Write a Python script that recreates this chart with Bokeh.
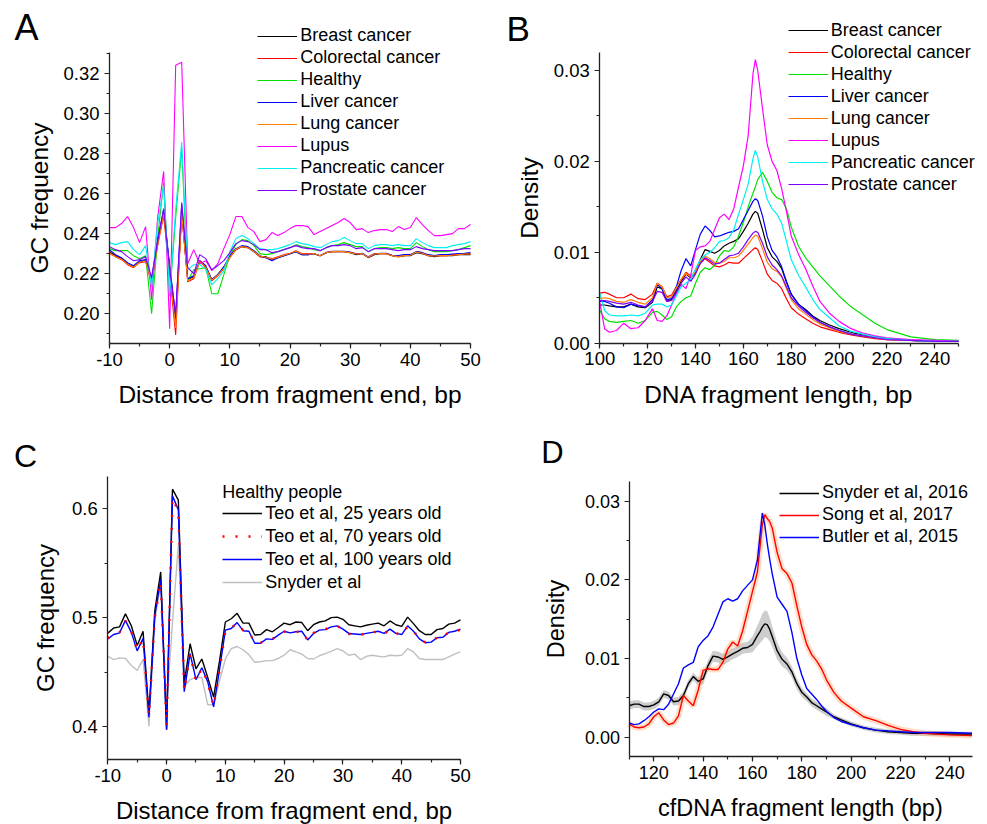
from bokeh.plotting import figure
from bokeh.models import (Range1d, SingleIntervalTicker, NumeralTickFormatter,
                          Legend, LegendItem, Label)
from bokeh.layouts import column, row
from bokeh.embed import file_html
from bokeh.resources import INLINE

FONT = "Liberation Sans"

# ---------------- Panel A data (GC frequency vs distance) ----------------
A_x = list(range(-10, 51))
A_breast = [0.2310, 0.2290, 0.2275, 0.2250, 0.2235, 0.2260, 0.2265, 0.2170, 0.2355, 0.2510,
            0.2230, 0.1960, 0.2505, 0.2170, 0.2185, 0.2265, 0.2235, 0.2170, 0.2195, 0.2230,
            0.2285, 0.2320, 0.2335, 0.2330, 0.2310, 0.2285, 0.2285, 0.2270, 0.2280, 0.2290,
            0.2300, 0.2310, 0.2295, 0.2295, 0.2300, 0.2290, 0.2305, 0.2310, 0.2310, 0.2310,
            0.2305, 0.2295, 0.2300, 0.2280, 0.2295, 0.2300, 0.2300, 0.2290, 0.2285, 0.2290,
            0.2290, 0.2305, 0.2300, 0.2290, 0.2285, 0.2290, 0.2290, 0.2290, 0.2295, 0.2295, 0.2295]
A_colorectal = [0.2305, 0.2285, 0.2270, 0.2245, 0.2230, 0.2255, 0.2260, 0.2150, 0.2340, 0.2490,
                0.2200, 0.1895, 0.2510, 0.2160, 0.2175, 0.2260, 0.2230, 0.2165, 0.2190, 0.2225,
                0.2280, 0.2320, 0.2335, 0.2330, 0.2310, 0.2285, 0.2280, 0.2275, 0.2285, 0.2295,
                0.2300, 0.2315, 0.2300, 0.2300, 0.2300, 0.2290, 0.2305, 0.2310, 0.2310, 0.2310,
                0.2305, 0.2300, 0.2300, 0.2285, 0.2300, 0.2300, 0.2300, 0.2290, 0.2285, 0.2290,
                0.2295, 0.2310, 0.2305, 0.2290, 0.2290, 0.2290, 0.2290, 0.2295, 0.2295, 0.2300, 0.2300]
A_healthy = [0.2325, 0.2315, 0.2315, 0.2315, 0.2290, 0.2275, 0.2290, 0.2000, 0.2380, 0.2655,
             0.2090, 0.2480, 0.2825, 0.2165, 0.2220, 0.2225, 0.2230, 0.2100, 0.2100, 0.2195,
             0.2290, 0.2345, 0.2370, 0.2365, 0.2340, 0.2300, 0.2295, 0.2300, 0.2310, 0.2320,
             0.2330, 0.2345, 0.2335, 0.2330, 0.2320, 0.2315, 0.2330, 0.2340, 0.2345, 0.2355,
             0.2345, 0.2335, 0.2335, 0.2310, 0.2325, 0.2330, 0.2330, 0.2325, 0.2330, 0.2325,
             0.2325, 0.2355, 0.2335, 0.2320, 0.2310, 0.2310, 0.2310, 0.2315, 0.2320, 0.2330, 0.2340]
A_liver = [0.2320, 0.2295, 0.2280, 0.2255, 0.2240, 0.2265, 0.2270, 0.2175, 0.2370, 0.2520,
           0.2240, 0.1990, 0.2545, 0.2175, 0.2190, 0.2265, 0.2240, 0.2170, 0.2195, 0.2235,
           0.2290, 0.2325, 0.2340, 0.2335, 0.2315, 0.2290, 0.2280, 0.2265, 0.2280, 0.2290,
           0.2300, 0.2310, 0.2295, 0.2295, 0.2300, 0.2290, 0.2305, 0.2312, 0.2312, 0.2312,
           0.2308, 0.2298, 0.2302, 0.2282, 0.2298, 0.2302, 0.2302, 0.2292, 0.2290, 0.2295,
           0.2295, 0.2310, 0.2305, 0.2295, 0.2290, 0.2295, 0.2295, 0.2298, 0.2300, 0.2302, 0.2305]
A_lung = [0.2300, 0.2285, 0.2272, 0.2248, 0.2232, 0.2258, 0.2262, 0.2160, 0.2345, 0.2500,
          0.2215, 0.1930, 0.2500, 0.2165, 0.2180, 0.2262, 0.2232, 0.2168, 0.2192, 0.2228,
          0.2282, 0.2322, 0.2336, 0.2330, 0.2310, 0.2288, 0.2282, 0.2272, 0.2282, 0.2292,
          0.2302, 0.2312, 0.2298, 0.2298, 0.2300, 0.2290, 0.2305, 0.2310, 0.2312, 0.2310,
          0.2305, 0.2298, 0.2300, 0.2282, 0.2298, 0.2300, 0.2300, 0.2290, 0.2285, 0.2290,
          0.2292, 0.2308, 0.2302, 0.2290, 0.2288, 0.2290, 0.2290, 0.2292, 0.2295, 0.2298, 0.2298]
A_lupus = [0.2430, 0.2430, 0.2450, 0.2485, 0.2430, 0.2355, 0.2435, 0.2070, 0.2480, 0.2710,
           0.1925, 0.3240, 0.3255, 0.2250, 0.2320, 0.2250, 0.2265, 0.2215, 0.2250, 0.2325,
           0.2395, 0.2485, 0.2485, 0.2430, 0.2410, 0.2360, 0.2370, 0.2405, 0.2390, 0.2405,
           0.2425, 0.2440, 0.2440, 0.2435, 0.2395, 0.2410, 0.2425, 0.2440, 0.2455, 0.2475,
           0.2455, 0.2420, 0.2425, 0.2405, 0.2415, 0.2420, 0.2420, 0.2410, 0.2435, 0.2420,
           0.2430, 0.2480, 0.2445, 0.2415, 0.2390, 0.2390, 0.2395, 0.2400, 0.2425, 0.2425, 0.2445]
A_pancreatic = [0.2355, 0.2345, 0.2355, 0.2360, 0.2320, 0.2295, 0.2340, 0.2135, 0.2450, 0.2640,
                0.2095, 0.2520, 0.2855, 0.2220, 0.2245, 0.2245, 0.2220, 0.2145, 0.2175, 0.2215,
                0.2310, 0.2375, 0.2390, 0.2375, 0.2350, 0.2325, 0.2320, 0.2320, 0.2325, 0.2335,
                0.2345, 0.2360, 0.2350, 0.2345, 0.2335, 0.2330, 0.2345, 0.2360, 0.2365, 0.2380,
                0.2365, 0.2350, 0.2350, 0.2325, 0.2340, 0.2345, 0.2345, 0.2340, 0.2345, 0.2340,
                0.2340, 0.2375, 0.2355, 0.2340, 0.2330, 0.2330, 0.2330, 0.2340, 0.2345, 0.2350, 0.2360]
A_prostate = [0.2335, 0.2320, 0.2310, 0.2285, 0.2265, 0.2270, 0.2285, 0.2180, 0.2360, 0.2525,
              0.2220, 0.1995, 0.2555, 0.2230, 0.2200, 0.2295, 0.2275, 0.2220, 0.2240, 0.2265,
              0.2305, 0.2350, 0.2365, 0.2360, 0.2345, 0.2320, 0.2320, 0.2305, 0.2310, 0.2320,
              0.2330, 0.2340, 0.2330, 0.2325, 0.2325, 0.2315, 0.2330, 0.2340, 0.2340, 0.2345,
              0.2340, 0.2325, 0.2330, 0.2310, 0.2325, 0.2325, 0.2325, 0.2320, 0.2315, 0.2320,
              0.2320, 0.2335, 0.2325, 0.2320, 0.2315, 0.2315, 0.2315, 0.2315, 0.2320, 0.2325, 0.2325]

GROUP_NAMES = ["Breast cancer", "Colorectal cancer", "Healthy", "Liver cancer",
               "Lung cancer", "Lupus", "Pancreatic cancer", "Prostate cancer"]
GROUP_COLORS = ["#000000", "#ff0000", "#00e000", "#0000ff",
                "#ff8000", "#ff00ff", "#00f0f0", "#8000ff"]

# ---------------- Panel B data (density vs fragment length) ----------------
B_x = [100, 102, 104, 107, 110, 113, 116, 119,
       122, 124, 126, 128, 130, 132, 134, 136, 138, 140, 142, 144, 146, 148, 150, 152, 154, 156, 158, 160, 162, 164,
       165, 166,
       168, 170, 172, 174, 176, 178, 180,
       183, 186, 189, 192, 196, 200,
       205, 210, 215, 220, 230, 240, 250]
B_breast = [0.0042, 0.0042, 0.0041, 0.0040, 0.0040, 0.0043, 0.0040, 0.0039,
            0.0045, 0.0062, 0.0060, 0.0046, 0.0048, 0.0058, 0.0068, 0.0076, 0.0072, 0.0078, 0.0092, 0.0103,
            0.0101, 0.0099, 0.0102, 0.0107, 0.0110, 0.0112, 0.0115, 0.0123, 0.0132, 0.0142,
            0.0145, 0.0143,
            0.0125, 0.0105, 0.0095, 0.0090, 0.0082, 0.0067, 0.0054,
            0.0043, 0.0037, 0.0030, 0.0025, 0.0020, 0.0016,
            0.0012, 0.0009, 0.0007, 0.0005, 0.0003, 0.0002, 0.0002]
B_colorectal = [0.0055, 0.0056, 0.0054, 0.0050, 0.0050, 0.0054, 0.0049, 0.0048,
                0.0054, 0.0066, 0.0062, 0.0051, 0.0053, 0.0062, 0.0070, 0.0078, 0.0074, 0.0078, 0.0088, 0.0093,
                0.0089, 0.0085, 0.0084, 0.0086, 0.0089, 0.0088, 0.0088, 0.0093, 0.0098, 0.0103,
                0.0105, 0.0103,
                0.0090, 0.0076, 0.0069, 0.0066, 0.0060, 0.0049, 0.0039,
                0.0032, 0.0027, 0.0022, 0.0018, 0.0015, 0.0012,
                0.0009, 0.0007, 0.0005, 0.0004, 0.0003, 0.0002, 0.0002]
B_healthy = [0.0036, 0.0027, 0.0024, 0.0023, 0.0024, 0.0025, 0.0022, 0.0025,
             0.0034, 0.0035, 0.0031, 0.0026, 0.0029, 0.0040, 0.0046, 0.0050, 0.0052, 0.0066, 0.0078, 0.0083,
             0.0081, 0.0086, 0.0096, 0.0102, 0.0101, 0.0106, 0.0118, 0.0133, 0.0150, 0.0165,
             0.0172, 0.0180,
             0.0188, 0.0178, 0.0166, 0.0160, 0.0158, 0.0148, 0.0128,
             0.0107, 0.0094, 0.0084, 0.0074, 0.0063, 0.0052,
             0.0040, 0.0031, 0.0022, 0.0015, 0.0007, 0.0004, 0.0003]
B_liver = [0.0046, 0.0046, 0.0044, 0.0040, 0.0039, 0.0043, 0.0041, 0.0040,
           0.0048, 0.0065, 0.0060, 0.0048, 0.0049, 0.0062, 0.0080, 0.0093, 0.0085, 0.0103, 0.0120, 0.0129,
           0.0124, 0.0117, 0.0118, 0.0120, 0.0122, 0.0123, 0.0126, 0.0136, 0.0146, 0.0156,
           0.0159, 0.0157,
           0.0140, 0.0117, 0.0102, 0.0095, 0.0084, 0.0068, 0.0054,
           0.0043, 0.0036, 0.0029, 0.0023, 0.0018, 0.0014,
           0.0010, 0.0008, 0.0006, 0.0005, 0.0003, 0.0002, 0.0002]
B_lung = [0.0049, 0.0050, 0.0049, 0.0046, 0.0045, 0.0048, 0.0045, 0.0043,
          0.0050, 0.0066, 0.0062, 0.0050, 0.0051, 0.0061, 0.0070, 0.0077, 0.0073, 0.0079, 0.0090, 0.0096,
          0.0093, 0.0089, 0.0088, 0.0090, 0.0094, 0.0094, 0.0096, 0.0102, 0.0109, 0.0116,
          0.0119, 0.0118,
          0.0104, 0.0089, 0.0082, 0.0079, 0.0073, 0.0060, 0.0048,
          0.0038, 0.0032, 0.0026, 0.0021, 0.0017, 0.0013,
          0.0010, 0.0008, 0.0006, 0.0004, 0.0003, 0.0002, 0.0002]
B_lupus = [0.0045, 0.0016, 0.0012, 0.0014, 0.0022, 0.0016, 0.0017, 0.0025,
           0.0038, 0.0025, 0.0024, 0.0030, 0.0042, 0.0055, 0.0065, 0.0060, 0.0075, 0.0102, 0.0106, 0.0107,
           0.0112, 0.0125, 0.0138, 0.0142, 0.0136, 0.0148, 0.0172, 0.0195, 0.0228, 0.0296,
           0.0312, 0.0300,
           0.0258, 0.0218, 0.0200, 0.0190, 0.0170, 0.0145, 0.0118,
           0.0098, 0.0082, 0.0063, 0.0046, 0.0033, 0.0024,
           0.0016, 0.0011, 0.0008, 0.0006, 0.0004, 0.0003, 0.0002]
B_pancreatic = [0.0055, 0.0036, 0.0031, 0.0030, 0.0030, 0.0031, 0.0030, 0.0033,
                0.0042, 0.0043, 0.0043, 0.0040, 0.0042, 0.0052, 0.0062, 0.0066, 0.0070, 0.0082, 0.0092, 0.0097,
                0.0100, 0.0105, 0.0112, 0.0113, 0.0116, 0.0125, 0.0142, 0.0158, 0.0175, 0.0203,
                0.0212, 0.0205,
                0.0178, 0.0158, 0.0148, 0.0142, 0.0132, 0.0112, 0.0092,
                0.0075, 0.0062, 0.0048, 0.0037, 0.0028, 0.0019,
                0.0013, 0.0010, 0.0007, 0.0005, 0.0003, 0.0002, 0.0002]
B_prostate = [0.0047, 0.0047, 0.0046, 0.0044, 0.0043, 0.0045, 0.0042, 0.0040,
              0.0046, 0.0057, 0.0056, 0.0046, 0.0047, 0.0056, 0.0066, 0.0073, 0.0068, 0.0076, 0.0088, 0.0094,
              0.0091, 0.0087, 0.0088, 0.0092, 0.0096, 0.0097, 0.0099, 0.0106, 0.0114, 0.0121,
              0.0123, 0.0122,
              0.0110, 0.0095, 0.0086, 0.0081, 0.0074, 0.0062, 0.0050,
              0.0041, 0.0034, 0.0028, 0.0023, 0.0018, 0.0014,
              0.0010, 0.0008, 0.0006, 0.0004, 0.0003, 0.0002, 0.0002]

# ---------------- Panel C data (healthy people GC frequency) ----------------
C_x = list(range(-10, 51))
C_teo25 = [0.4858, 0.4905, 0.4915, 0.5035, 0.4925, 0.4745, 0.4875, 0.4115, 0.5065, 0.5420,
           0.3970, 0.6180, 0.6080, 0.4400, 0.4760, 0.4530, 0.4620, 0.4450, 0.4270, 0.4600,
           0.4960, 0.4990, 0.5040, 0.4950, 0.4950, 0.4840, 0.4845, 0.4890, 0.4870, 0.4910,
           0.4950, 0.4935, 0.4960, 0.4955, 0.4880, 0.4935, 0.4960, 0.4970, 0.5000, 0.5005,
           0.4985, 0.4935, 0.4925, 0.4915, 0.4930, 0.4940, 0.4950, 0.4925, 0.4970, 0.4935,
           0.4920, 0.5005, 0.4945, 0.4880, 0.4845, 0.4845, 0.4890, 0.4900, 0.4940, 0.4950, 0.4980]
C_teo70 = [0.4810, 0.4850, 0.4865, 0.4970, 0.4870, 0.4700, 0.4805, 0.4100, 0.5010, 0.5330,
           0.4000, 0.6100, 0.5970, 0.4330, 0.4665, 0.4420, 0.4535, 0.4405, 0.4185, 0.4515,
           0.4880, 0.4905, 0.4950, 0.4885, 0.4870, 0.4770, 0.4770, 0.4800, 0.4805, 0.4835,
           0.4870, 0.4865, 0.4865, 0.4880, 0.4790, 0.4860, 0.4880, 0.4895, 0.4910, 0.4920,
           0.4900, 0.4850, 0.4855, 0.4840, 0.4860, 0.4860, 0.4880, 0.4850, 0.4890, 0.4860,
           0.4840, 0.4920, 0.4880, 0.4800, 0.4775, 0.4770, 0.4820, 0.4815, 0.4870, 0.4870, 0.4890]
C_teo100 = [0.4805, 0.4845, 0.4860, 0.4975, 0.4865, 0.4695, 0.4810, 0.4085, 0.5020, 0.5350,
            0.3975, 0.6120, 0.5990, 0.4320, 0.4670, 0.4430, 0.4540, 0.4410, 0.4180, 0.4520,
            0.4885, 0.4900, 0.4955, 0.4880, 0.4875, 0.4765, 0.4765, 0.4805, 0.4800, 0.4840,
            0.4875, 0.4860, 0.4870, 0.4875, 0.4795, 0.4855, 0.4885, 0.4890, 0.4915, 0.4925,
            0.4895, 0.4855, 0.4850, 0.4845, 0.4855, 0.4865, 0.4875, 0.4855, 0.4895, 0.4855,
            0.4845, 0.4925, 0.4875, 0.4805, 0.4770, 0.4775, 0.4815, 0.4820, 0.4865, 0.4875, 0.4895]
C_snyder = [0.4645, 0.4615, 0.4630, 0.4625, 0.4560, 0.4515, 0.4615, 0.4000, 0.4970, 0.5310,
            0.4170, 0.4950, 0.5670, 0.4370, 0.4430, 0.4450, 0.4450, 0.4200, 0.4200, 0.4420,
            0.4620, 0.4715, 0.4735, 0.4705, 0.4660, 0.4590, 0.4595, 0.4605, 0.4605, 0.4625,
            0.4655, 0.4705, 0.4685, 0.4665, 0.4625, 0.4620, 0.4650, 0.4670, 0.4690, 0.4715,
            0.4695, 0.4655, 0.4665, 0.4615, 0.4645, 0.4655, 0.4645, 0.4640, 0.4655, 0.4650,
            0.4655, 0.4715, 0.4685, 0.4625, 0.4615, 0.4615, 0.4615, 0.4615, 0.4640, 0.4665, 0.4685]

# ---------------- Panel D data (cfDNA fragment length densities) ----------------
D_x = [110, 112, 114, 116, 118, 120, 122, 124, 126, 128, 130, 132, 134, 136, 138,
       140, 142, 144, 146, 148, 150, 152, 154, 156, 158,
       160, 162,
       163, 164, 165, 166, 167, 168,
       170, 172, 174, 176, 178, 180, 182, 184, 186, 188, 190,
       193, 196, 200, 205, 210, 215, 220, 225, 230, 240, 249]
D_snyder = [0.0040, 0.0042, 0.0042, 0.0039, 0.0039, 0.0041, 0.0045, 0.0055, 0.0053, 0.0045, 0.0046, 0.0053, 0.0068, 0.0077, 0.0071,
            0.0074, 0.0091, 0.0103, 0.0102, 0.0099, 0.0102, 0.0106, 0.0109, 0.0113, 0.0114,
            0.0118, 0.0129,
            0.0134, 0.0140, 0.0144, 0.0143, 0.0137, 0.0128,
            0.0110, 0.0099, 0.0093, 0.0083, 0.0068, 0.0057, 0.0051, 0.0044, 0.0040, 0.0036, 0.0032,
            0.0026, 0.0022, 0.0017, 0.0012, 0.0009, 0.0007, 0.0006, 0.0005, 0.0005, 0.0004, 0.0004]
D_snyder_err = [0.0005, 0.0005, 0.0005, 0.0005, 0.0005, 0.0005, 0.0005, 0.0005, 0.0005, 0.0005, 0.0005, 0.0005, 0.0005, 0.0005, 0.0005,
                0.0007, 0.0007, 0.0007, 0.0007, 0.0007, 0.0007, 0.0007, 0.0007, 0.0007, 0.0007,
                0.0010, 0.0013,
                0.0015, 0.0017, 0.0017, 0.0017, 0.0015, 0.0013,
                0.0011, 0.0009, 0.0008, 0.0007, 0.0007, 0.0006, 0.0005, 0.0005, 0.0005, 0.0005, 0.0005,
                0.0003, 0.0003, 0.0003, 0.0003, 0.0003, 0.0003, 0.0003, 0.0003, 0.0003, 0.0003, 0.0003]
D_song = [0.0017, 0.0013, 0.0012, 0.0013, 0.0017, 0.0026, 0.0031, 0.0022, 0.0016, 0.0018, 0.0027, 0.0053, 0.0046, 0.0040, 0.0060,
          0.0085, 0.0087, 0.0086, 0.0086, 0.0095, 0.0112, 0.0121, 0.0116, 0.0135, 0.0160,
          0.0185, 0.0210,
          0.0240, 0.0270, 0.0283, 0.0278, 0.0274, 0.0266,
          0.0235, 0.0214, 0.0208, 0.0196, 0.0167, 0.0140, 0.0118, 0.0105, 0.0097, 0.0087, 0.0073,
          0.0057, 0.0046, 0.0037, 0.0026, 0.0021, 0.0015, 0.0010, 0.0007, 0.0005, 0.0003, 0.0002]
D_butler = [0.0018, 0.0016, 0.0017, 0.0021, 0.0026, 0.0032, 0.0036, 0.0035, 0.0042, 0.0055, 0.0068, 0.0088, 0.0092, 0.0095, 0.0115,
            0.0123, 0.0129, 0.0140, 0.0156, 0.0172, 0.0176, 0.0173, 0.0176, 0.0186, 0.0193,
            0.0200, 0.0225,
            0.0255, 0.0285, 0.0270, 0.0246, 0.0226, 0.0208,
            0.0178, 0.0169, 0.0160, 0.0133, 0.0100, 0.0079, 0.0062, 0.0055, 0.0048, 0.0040, 0.0033,
            0.0025, 0.0020, 0.0016, 0.0012, 0.0009, 0.0008, 0.0007, 0.0006, 0.0006, 0.0006, 0.0005]


def make_fig(W, H, xcal, ycal, xbounds, ybounds):
    """xcal = ((x0, px0), (x1, px1)); ycal = ((y0, py0), (y1, py1)), pixels from figure top-left."""
    (x0, px0), (x1, px1) = xcal
    (y0, py0), (y1, py1) = ycal
    sx = (px1 - px0) / (x1 - x0)
    sy = (py0 - py1) / (y1 - y0)
    xr = Range1d(x0 - px0 / sx, x0 + (W - px0) / sx)
    yr = Range1d(y0 - (H - py0) / sy, y0 + py0 / sy)
    p = figure(width=W, height=H, x_range=xr, y_range=yr,
               output_backend="svg", toolbar_location=None,
               min_border_left=0, min_border_right=0, min_border_top=0, min_border_bottom=0)
    p.outline_line_color = None
    p.grid.visible = False
    p.xaxis.fixed_location = ybounds[0]
    p.yaxis.fixed_location = xbounds[0]
    p.xaxis.bounds = xbounds
    p.yaxis.bounds = ybounds
    return p


def style(p, xint, yint, xfmt, yfmt, tick_size, title_size, xlabel, ylabel,
          x_std1, x_std2, y_std1, y_std2):
    for ax, itv, fmt, s1, s2, lab in ((p.xaxis[0], xint, xfmt, x_std1, x_std2, xlabel),
                                      (p.yaxis[0], yint, yfmt, y_std1, y_std2, ylabel)):
        ax.ticker = SingleIntervalTicker(interval=itv, num_minor_ticks=2)
        ax.formatter = NumeralTickFormatter(format=fmt)
        ax.axis_label = lab
        ax.axis_line_color = "#222222"
        ax.axis_line_width = 1.3
        ax.major_tick_line_color = "#222222"
        ax.minor_tick_line_color = "#222222"
        ax.major_tick_line_width = 1.2
        ax.minor_tick_line_width = 1.2
        ax.major_tick_in = 0
        ax.major_tick_out = 5
        ax.minor_tick_in = 0
        ax.minor_tick_out = 3
        ax.major_label_text_font = FONT
        ax.major_label_text_font_size = tick_size
        ax.major_label_text_color = "black"
        ax.major_label_standoff = s1
        ax.axis_label_text_font = FONT
        ax.axis_label_text_font_size = title_size
        ax.axis_label_text_font_style = "normal"
        ax.axis_label_text_color = "black"
        ax.axis_label_standoff = s2


def add_legend(p, names, rends, loc, spacing, title=None):
    leg = Legend(items=[LegendItem(label=n, renderers=[r]) for n, r in zip(names, rends)],
                 location=loc, glyph_width=40, glyph_height=20, label_height=20,
                 spacing=spacing, padding=0, margin=0, label_standoff=3,
                 label_text_font=FONT, label_text_font_size="18px",
                 label_text_color="black",
                 border_line_alpha=0, background_fill_alpha=0)
    if title:
        leg.title = title
        leg.title_text_font = FONT
        leg.title_text_font_size = "18px"
        leg.title_text_font_style = "normal"
        leg.title_text_color = "black"
        leg.title_standoff = 0
    p.add_layout(leg)


def letter(p, txt, x, y, size):
    p.add_layout(Label(x=x, y=y, x_units="screen", y_units="screen", text=txt,
                       text_font=FONT, text_font_size=size, text_align="left",
                       text_baseline="alphabetic", text_color="black"))


# ---------------- Panel A ----------------
WA, HA = 498, 411
pA = make_fig(WA, HA, ((-10, 109), (50, 470)), ((0.20, 313.3), (0.32, 72.7)),
              (-10, 50), (0.185, 0.3301))
style(pA, 10, 0.02, "0", "0.00", "18.5px", "24.5px",
      "Distance from fragment end, bp", "GC frequency", 4, 12, 5, 7)
A_series = [A_breast, A_colorectal, A_healthy, A_liver, A_lung, A_lupus, A_pancreatic, A_prostate]
rA = [pA.line(A_x, ys, line_color=c, line_width=1.1) for ys, c in zip(A_series, GROUP_COLORS)]
add_legend(pA, GROUP_NAMES, rA, (257.3, HA - 200), 1)
letter(pA, "A", 14, HA - 26.7, "36px")

# ---------------- Panel B ----------------
WB, HB = 489, 411
pB = make_fig(WB, HB, ((100, 101.3), (240, 436.3)), ((0.0, 342.7), (0.03, 70.0)),
              (100, 250), (0, 0.032))
style(pB, 20, 0.01, "0", "0.00", "18.5px", "24.5px",
      "DNA fragment length, bp", "Density", 4, 12, 5, 7)
B_series = [B_breast, B_colorectal, B_healthy, B_liver, B_lung, B_lupus, B_pancreatic, B_prostate]
rB = [pB.line(B_x, ys, line_color=c, line_width=1.2) for ys, c in zip(B_series, GROUP_COLORS)]
add_legend(pB, GROUP_NAMES, rB, (289.7, HB - 194.7), 1)
letter(pB, "B", 8, HB - 27.7, "35px")

# ---------------- Panel C ----------------
WC, HC = 498, 413
pC = make_fig(WC, HC, ((-10, 107.3), (50, 460)), ((0.4, 315.0), (0.6, 97.3)),
              (-10, 50), (0.37, 0.63))
style(pC, 10, 0.1, "0", "0.0", "18.5px", "24px",
      "Distance from fragment end, bp", "GC frequency", 5, 11, 5, 10)
rC1 = pC.line(C_x, C_snyder, line_color="#c0c0c0", line_width=1.4)
rC2 = pC.line(C_x, C_teo25, line_color="#000000", line_width=1.4)
rC4 = pC.line(C_x, C_teo100, line_color="#0000ff", line_width=1.4)
rC3 = pC.line(C_x, C_teo70, line_color="#ff0000", line_width=2.4, line_dash="2 11")
add_legend(pC, ["Teo et al, 25 years old", "Teo et al, 70 years old",
                "Teo et al, 100 years old", "Snyder et al"],
           [rC2, rC3, rC4, rC1], (222.3, HC - 181.6), 2, title="Healthy people")
letter(pC, "C", 13.5, HC - 44, "32px")

# ---------------- Panel D ----------------
WD, HD = 489, 413
pD = make_fig(WD, HD, ((120, 155.3), (240, 451.3)), ((0.0, 325.7), (0.03, 89.7)),
              (110, 249), (-0.0025, 0.0325))
style(pD, 20, 0.01, "0", "0.00", "18px", "23.5px",
      "cfDNA fragment length (bp)", "Density", 4, 13, 4, 13)
D_lo = [y - e for y, e in zip(D_snyder, D_snyder_err)]
D_hi = [y + e for y, e in zip(D_snyder, D_snyder_err)]
pD.varea(x=D_x, y1=D_lo, y2=D_hi, fill_color="#c4c4c4", fill_alpha=0.85)
pD.line(D_x, D_song, line_color="#ffa060", line_width=6, line_alpha=0.35)
rD1 = pD.line(D_x, D_snyder, line_color="#000000", line_width=1.4)
rD2 = pD.line(D_x, D_song, line_color="#ff0000", line_width=1.4)
rD3 = pD.line(D_x, D_butler, line_color="#0000ff", line_width=1.4)
add_legend(pD, ["Snyder et al, 2016", "Song et al, 2017", "Butler et al, 2015"],
           [rD1, rD2, rD3], (281, HD - 136), 1)
letter(pD, "D", 42.8, HD - 41.3, "31px")

layout = column(row(pA, pB), row(pC, pD))

with open("out.html", "w") as f:
    f.write(file_html(layout, INLINE))
